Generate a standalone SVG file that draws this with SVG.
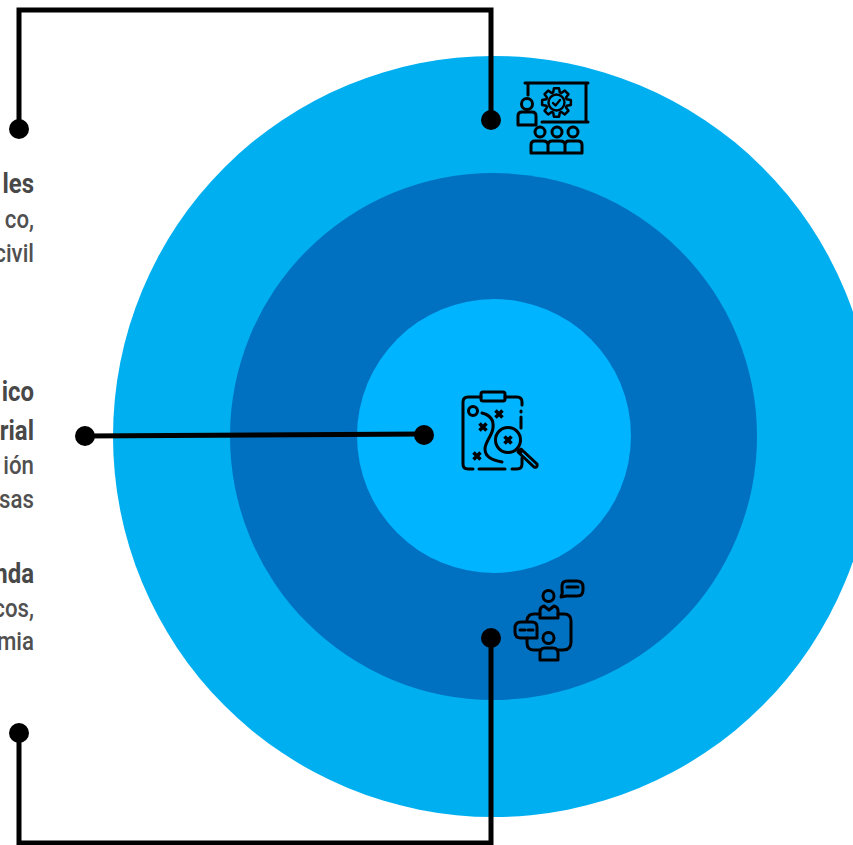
<svg xmlns="http://www.w3.org/2000/svg" width="853" height="845" viewBox="0 0 853 845">
<style>
.h{font:bold 28.5px Roboto,"Liberation Sans",sans-serif;fill:#484848;text-anchor:end}
.b{font:500 26.5px Roboto,"Liberation Sans",sans-serif;fill:#505050;text-anchor:end}
.i{fill:none;stroke:#000;stroke-width:3;stroke-linecap:round;stroke-linejoin:round}
.x{fill:none;stroke:#000;stroke-width:3.5;stroke-linecap:butt}
.c{fill:none;stroke:#000;stroke-width:5}
</style>
<defs><path id="xm" class="x" d="M-3.500-3.500L3.500 3.500M3.500-3.500L-3.500 3.500"/></defs>
<g id="rings">
<circle cx="493.500" cy="436.500" r="380.500" fill="#00AFF0"/>
<circle cx="493.500" cy="436.500" r="263.500" fill="#0071C1"/>
<circle cx="494" cy="436" r="137" fill="#00B4FF"/>
</g>
<g id="text-1">
<text class="h" transform="translate(34,193) scale(.84,1)">les</text>
<text class="b" transform="translate(34,228) scale(.84,1)">co,</text>
<text class="b" transform="translate(34,262) scale(.84,1)">civil</text>
</g>
<g id="text-2">
<text class="h" transform="translate(34,400.500) scale(.84,1)">ico</text>
<text class="h" transform="translate(34,440) scale(.84,1)">rial</text>
<text class="b" transform="translate(34,473.500) scale(.84,1)">ión</text>
<text class="b" transform="translate(34,508) scale(.84,1)">sas</text>
</g>
<g id="text-3">
<text class="h" transform="translate(34,583) scale(.84,1)">nda</text>
<text class="b" transform="translate(34,617) scale(.84,1)">cos,</text>
<text class="b" transform="translate(34,650) scale(.84,1)">mia</text>
</g>
<g id="connectors">
<path class="c" d="M19 129V10H491V120"/>
<path class="c" d="M85 436L424 434"/>
<path class="c" d="M19 733V843H491V638"/>
<circle cx="19" cy="129" r="10"/><circle cx="491" cy="120" r="10"/>
<circle cx="85" cy="436" r="10"/><circle cx="424" cy="435" r="10"/>
<circle cx="19" cy="733" r="10"/><circle cx="491" cy="638" r="10"/>
</g>
<g id="icon-top" class="i">
<path d="M525 83H588M528 83V95M586 83V122M542 122H588"/>
<circle cx="527" cy="104" r="5.500"/>
<path d="M518 125V116Q518 112 522 112H532Q536 112 536 116V125Z"/>
<path style="stroke-width:2.600" transform="translate(556.500,102.500) scale(.97)" d="M10.500-3.400L14.800-2.600V2.600L10.500 3.400L9.800 5L12.300 8.600L8.600 12.300L5 9.800L3.400 10.500L2.600 14.800H-2.600L-3.400 10.500L-5 9.800L-8.600 12.300L-12.300 8.600L-9.800 5L-10.500 3.400L-14.800 2.600V-2.600L-10.500-3.400L-9.800-5L-12.300-8.600L-8.600-12.300L-5-9.800L-3.400-10.500L-2.600-14.800H2.600L3.400-10.500L5-9.800L8.600-12.300L12.300-8.600L9.800-5Z"/>
<circle style="stroke-width:2.400" cx="556.500" cy="102.500" r="8"/>
<path style="stroke-width:2.400" d="M553 103L555.500 105.500L560 100"/>
<circle cx="540" cy="132" r="5"/><circle cx="557" cy="132" r="5"/><circle cx="573" cy="132" r="5"/>
<path d="M531 153V145Q531 141 535 141H543Q548 141 548 145V153ZM548 153V145Q548 141 552 141H560Q565 141 565 145V153ZM565 153V145Q565 141 569 141H578Q582 141 582 145V153Z"/>
</g>
<g id="icon-center">
<g class="i">
<path d="M505 397H517Q522 397 522 402V405M521 411V412M521 417V428M512 469H517Q522 469 522 464V458M473 469H468Q463 469 463 464V402Q463 397 468 397H481M479 469H505"/>
<rect x="481" y="392" width="24" height="9" rx="2"/>
<circle cx="473" cy="411" r="4.500"/>
<path d="M482 413C490 415 494 420 493 428C492 436 485 442 485 449C485 457 492 460 502 462"/>
<circle cx="508" cy="440" r="12.500"/>
<path d="M518 449L521 452M521 449L537 464Q538 468 534 467L518 452"/>
</g>
<use href="#xm" x="499" y="414"/><use href="#xm" x="483" y="427"/><use href="#xm" x="508" y="440"/><use href="#xm" x="477" y="456"/>
</g>
<g id="icon-bottom" class="i">
<path d="M561 597Q563 593 562 590V586Q562 581 567 581H577Q583 581 583 587V590Q583 596 577 596H566Z"/>
<path d="M567 587H578"/>
<circle cx="548.500" cy="596" r="5.500"/>
<path d="M540 618V611Q540 607 544 606L549 610L554 606Q558 607 558 611V618Z"/>
<path d="M558 614H564Q571 614 571 621V642Q571 650 563 650H558M540 614H534Q528 614 527 620M540 650H534Q527 650 527 643V638"/>
<path d="M521 622H532Q537 622 537 627V638H521Q515 638 515 632V628Q515 622 521 622Z"/>
<path d="M520 630H525M528 630H533"/>
<circle cx="548.500" cy="638" r="5.500"/>
<path d="M540 660V653Q540 648 545 648H553Q558 648 558 653V660Z"/>
</g>
</svg>
